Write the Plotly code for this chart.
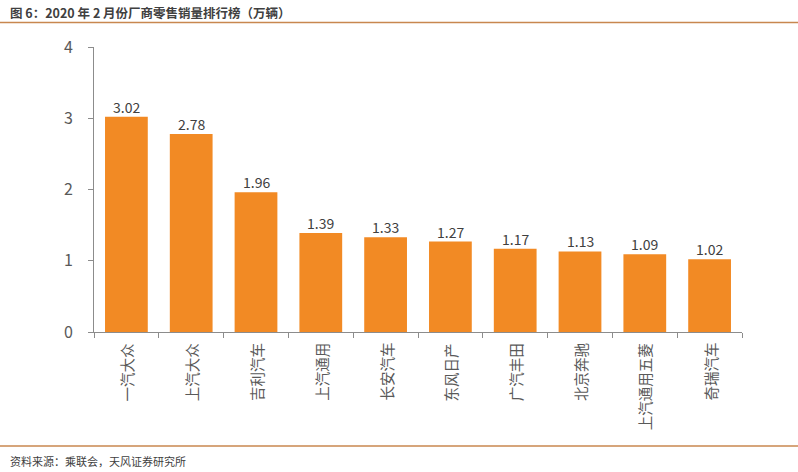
import plotly.graph_objects as go

categories = ["一汽大众", "上汽大众", "吉利汽车", "上汽通用", "长安汽车", "东风日产", "广汽丰田", "北京奔驰", "上汽通用五菱", "奇瑞汽车"]
values = [3.02, 2.78, 1.96, 1.39, 1.33, 1.27, 1.17, 1.13, 1.09, 1.02]
title_text = "图 6：2020 年 2 月份厂商零售销量排行榜（万辆）"
source_text = "资料来源：乘联会，天风证券研究所"

W, H = 798, 472
L, R, T, B = 94, 56, 47, 140
pw, ph = W - L - R, H - T - B

def px_x(p):
    return (p - L) / pw

def px_y(p):
    return (H - B - p) / ph

font_family = "Noto Sans CJK SC, Microsoft YaHei, sans-serif"

fig = go.Figure(go.Bar(
    x=categories, y=values,
    marker=dict(color="#F28A24", line=dict(width=0)),
    hoverinfo="x+y",
))

fig.update_layout(
    width=W, height=H,
    margin=dict(l=L, r=R, t=T, b=B),
    paper_bgcolor="white", plot_bgcolor="white",
    bargap=0.34,
    showlegend=False,
    font=dict(family=font_family, color="#595959"),
    xaxis=dict(
        showline=True, linecolor="#8C8C8C", linewidth=1,
        ticks="outside", ticklen=5, tickcolor="#8C8C8C",
        tickmode="array", tickvals=[i - 0.5 for i in range(11)], ticktext=[""] * 11,
        showgrid=False, range=[-0.5, 9.5],
    ),
    yaxis=dict(
        range=[0, 4], tickvals=[0, 1, 2, 3, 4],
        showline=True, linecolor="#8C8C8C", linewidth=1,
        ticks="outside", ticklen=5, tickcolor="#8C8C8C",
        showgrid=False, zeroline=False,
        tickfont=dict(size=16, color="#595959", family=font_family),
        ticklabelstandoff=12,
    ),
)

annotations = []
for c, v in zip(categories, values):
    annotations.append(dict(
        x=c, y=v, xref="x", yref="y",
        text=f"{v:.2f}", showarrow=False,
        xanchor="center", yanchor="bottom", yshift=-2,
        font=dict(size=14, color="#404040", family=font_family),
    ))
for c in categories:
    annotations.append(dict(
        x=c, y=px_y(H - B + 9), xref="x", yref="paper",
        text=c, textangle=-90, showarrow=False,
        xanchor="center", yanchor="top",
        font=dict(size=14.5, color="#595959", family=font_family),
    ))
annotations.append(dict(
    x=px_x(8), y=px_y(12), xref="paper", yref="paper",
    text="<b>" + title_text + "</b>", showarrow=False,
    xanchor="left", yanchor="middle",
    font=dict(size=12.5, color="#404040", family=font_family),
))
annotations.append(dict(
    x=px_x(8), y=px_y(461), xref="paper", yref="paper",
    text=source_text, showarrow=False,
    xanchor="left", yanchor="middle",
    font=dict(size=11, color="#404040", family=font_family),
))
fig.update_layout(annotations=annotations)

fig.add_shape(type="line", xref="paper", yref="paper",
              x0=px_x(0), x1=px_x(W), y0=px_y(22.5), y1=px_y(22.5),
              line=dict(color="#C8874F", width=1.5))
fig.add_shape(type="line", xref="paper", yref="paper",
              x0=px_x(0), x1=px_x(W), y0=px_y(446), y1=px_y(446),
              line=dict(color="#C8874F", width=1.5))

fig.write_html("out.html", config={"displayModeBar": False},
               post_script="document.body.style.margin='0';document.body.style.overflow='hidden';")
